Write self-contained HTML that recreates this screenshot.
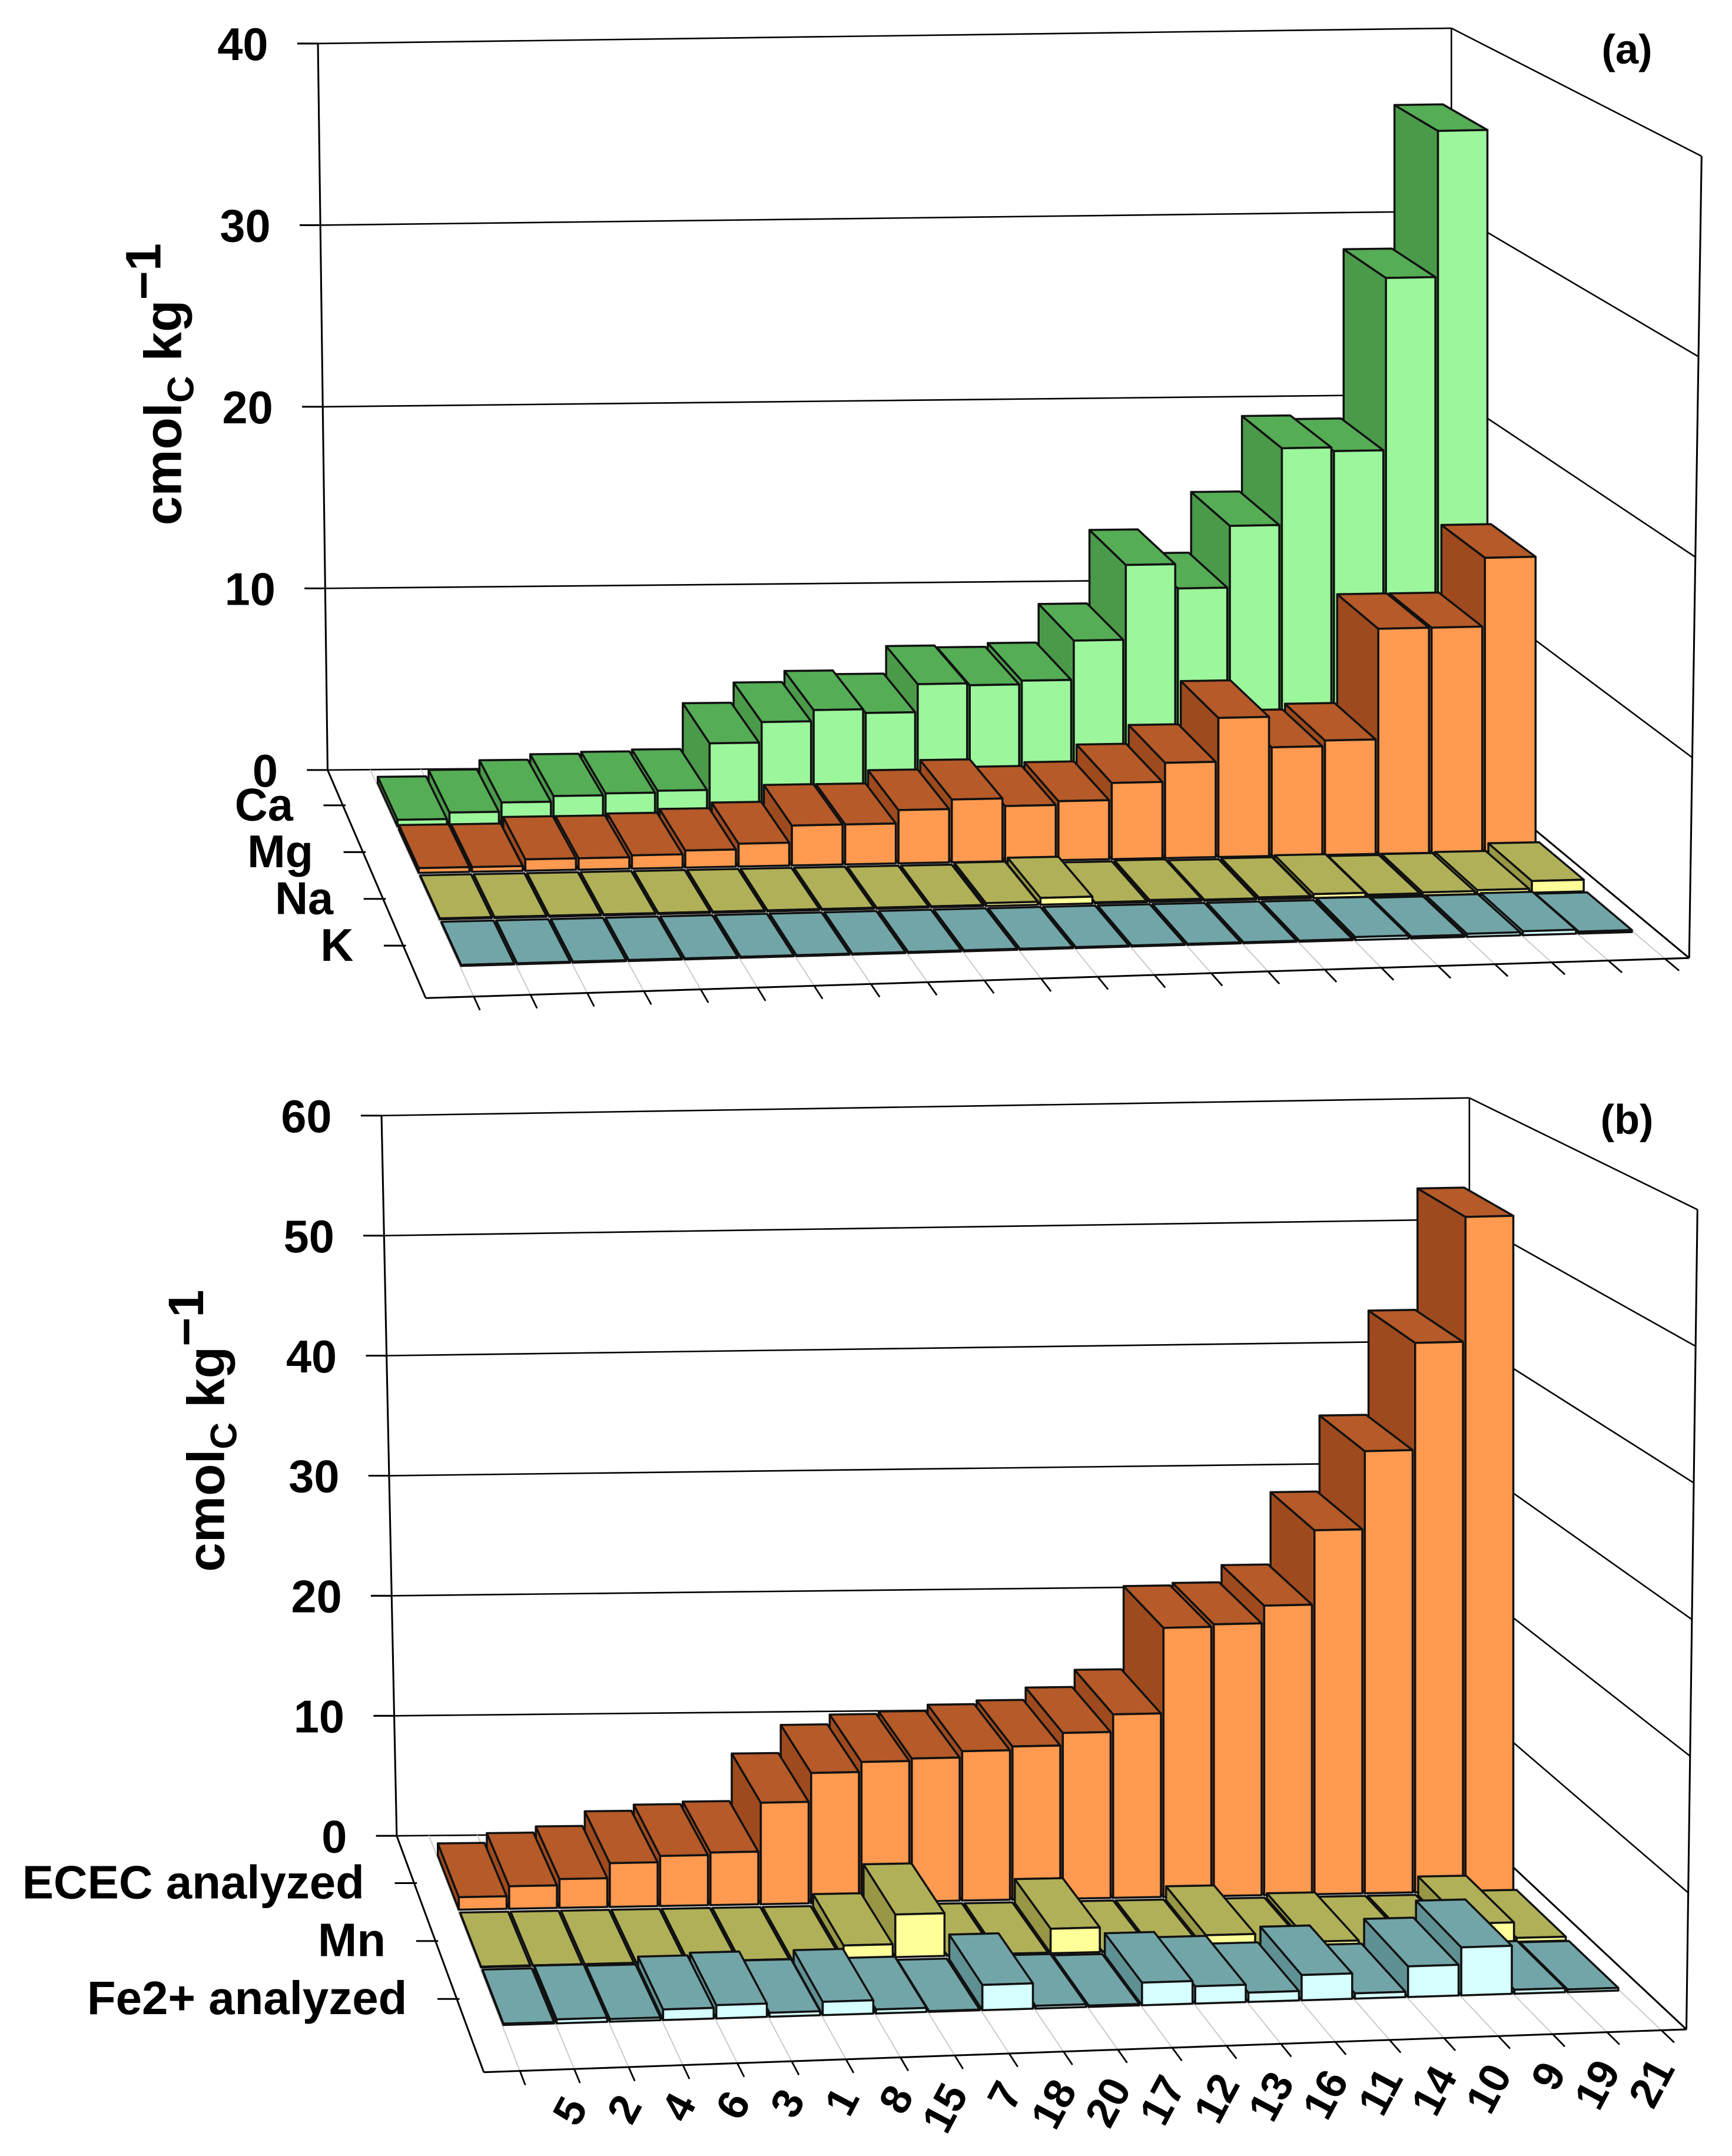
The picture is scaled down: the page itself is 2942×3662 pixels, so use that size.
<!DOCTYPE html>
<html><head><meta charset="utf-8">
<style>
html,body{margin:0;padding:0;background:#fff;}
svg{display:block;}
text{font-family:"Liberation Sans",Arial,sans-serif;font-weight:bold;fill:#000;}
</style></head>
<body>
<svg id="chart" xmlns="http://www.w3.org/2000/svg" width="2942" height="3662" viewBox="0 0 1253 1559.6" preserveAspectRatio="none">
<rect x="0" y="0" width="1253" height="1559.6" fill="#fff"/>
<g id="panelA"></g>
<g id="panelB"></g>
</svg>
<script>
const categories = ["5","2","4","6","3","1","8","15","7","18","20","17","12","13","16","11","14","10","9","19","21"];
const caValues = [0.35,0.7,1.2,1.5,1.6,1.7,4.2,5.3,5.9,5.7,7.2,7.1,7.3,9.4,13.4,12.1,15.4,19.5,19.3,28.5,36.3];
const mgValues = [0.25,0.25,0.6,0.6,0.7,0.9,1.2,2.1,2.1,2.8,3.3,2.9,3.1,4.0,5.0,7.3,5.7,6.0,11.8,11.8,15.4];
const naValues = [0.05,0.05,0.05,0.05,0.05,0.05,0.05,0.05,0.05,0.05,0.15,0.35,0.05,0.1,0.05,0.1,0.2,0.1,0.15,0.2,0.6];
const kValues = [0.05,0.05,0.05,0.05,0.05,0.05,0.05,0.05,0.05,0.05,0.05,0.05,0.05,0.05,0.05,0.05,0.15,0.1,0.15,0.2,0.1];
const ececValues = [1.0,1.8,2.3,3.5,4.0,4.2,8.1,10.4,11.2,11.4,11.9,12.2,13.2,14.6,21.4,21.6,23.0,28.9,35.1,43.6,53.5];
const mnValues = [0.05,0.05,0.05,0.05,0.05,0.05,0.05,1.0,3.3,0.05,0.05,1.9,0.05,0.05,1.1,0.05,0.4,0.05,0.05,1.5,0.3];
const fe2Values = [0.1,0.3,0.2,0.8,1.0,0.3,1.0,0.3,0.05,1.9,0.2,0.1,1.7,1.3,0.7,1.9,0.4,2.3,3.6,0.3,0.2];
const tickLabelsA = [0,10,20,30,40];
const tickLabelsB = [0,10,20,30,40,50,60];
const seriesNamesA = ["Ca","Mg","Na","K"];
const seriesNamesB = ["ECEC analyzed","Mn","Fe2+ analyzed"];

const NS = "http://www.w3.org/2000/svg";
const COL = {
  green:{front:"#9cf79c",top:"#55ad55",side:"#4a9a4a"},
  orange:{front:"#ff9a50",top:"#b55a28",side:"#9e4a1e"},
  yellow:{front:"#ffff99",top:"#b0b058",side:"#979745"},
  teal:{front:"#d6ffff",top:"#72a5a8",side:"#5f9093"}
};

function mk(tag, parent){const e=document.createElementNS(NS,tag);parent.appendChild(e);return e;}
function lerp(a,b,t){return [a[0]+(b[0]-a[0])*t,a[1]+(b[1]-a[1])*t];}
function P(g,u,d,v){
  const w1=(1-u)*(1-d),w2=u*(1-d),w3=u*d,w4=(1-u)*d;
  const x=w1*g.BL[0]+w2*g.BR[0]+w3*g.FR[0]+w4*g.FL[0];
  const y=w1*g.BL[1]+w2*g.BR[1]+w3*g.FR[1]+w4*g.FL[1];
  const s=w1*g.sBL+w2*g.sBR+w3*g.sFR+w4*g.sFL;
  return [x,y-v*s];
}
function pts(a){return a.map(p=>p[0].toFixed(2)+","+p[1].toFixed(2)).join(" ");}
function line(parent,a,b,w,c){const l=mk("line",parent);l.setAttribute("x1",a[0]);l.setAttribute("y1",a[1]);l.setAttribute("x2",b[0]);l.setAttribute("y2",b[1]);l.setAttribute("stroke",c||"#000");l.setAttribute("stroke-width",w);return l;}

function drawPanel(root,g,ticks,seriesNames,seriesVals,seriesCols,label,showCats){
  // walls
  const wall=mk("g",root);
  
  
  const max=ticks[ticks.length-1];
  const backTopR=[g.BR[0],g.BR[1]-max*g.sBR];
  for(const t of ticks){
    const f=t/max;
    const a=lerp(g.BL,g.axisTop,f);
    const b=[g.BR[0],g.BR[1]-t*g.sBR];
    const c=lerp(g.FR,g.rightTop,f);
    const gl=line(wall,a,b,1.1);
    
    
    const gr=line(wall,b,c,1.1);
    
    
    const tk=line(wall,[a[0]-15,a[1]],a,1.3);
    
    
    const tx=mk("text",wall);
    tx.setAttribute("x",a[0]-36);tx.setAttribute("y",a[1]+12);
    tx.setAttribute("text-anchor","end");tx.setAttribute("font-size","33");
    tx.textContent=t;
    
    
  }
  const ax=line(wall,g.BL,g.axisTop,1.3);
  
  
  const bv=line(wall,g.BR,backTopR,1.1);
  
  
  const rv=line(wall,g.FR,g.rightTop,1.3);
  
  
  // floor grid
  const fl=mk("g",root);
  
  
  for(let k=0;k<=categories.length;k++){
    const u=g.u0+k*g.slot;
    const gl=line(fl,P(g,u,0,0),P(g,u,1,0),0.8,"#c8c8c8");
    
    
    const tk=line(fl,P(g,u,1,0),P(g,u,1.06,0),1.2);
    
    
  }
  const e1=line(fl,g.BL,g.FL,1.3);
  
  
  const e2=line(fl,g.FL,g.FR,1.3);
  
  
  const e3=line(fl,g.BR,g.FR,1.3);
  
  
  // series labels
  seriesNames.forEach((nm,r)=>{
    const dc=g.rc0+r*g.rstep;
    const e=P(g,0,dc,0);
    const tk=line(fl,[e[0]-14,e[1]],[e[0]+2,e[1]],1.3);
    
    
    const tx=mk("text",root);
    tx.setAttribute("x",e[0]-36);tx.setAttribute("y",e[1]+11);
    tx.setAttribute("text-anchor","end");tx.setAttribute("font-size",g.sfs);
    tx.textContent=nm;
    
    
  });
  // bars
  const bars=mk("g",root);
  
  
  seriesVals.forEach((vals,r)=>{
    const dc=g.rc0+r*g.rstep, dB=dc-g.rh, dF=dc+g.rh;
    const col=seriesCols[r];
    for(let i=vals.length-1;i>=0;i--){
      const v=vals[i];
      const uL=g.u0+i*g.slot+g.slot*(1-g.fill)/2, uR=uL+g.slot*g.fill;
      const bg=mk("g",bars);
      
      
      const faces=[
        [[P(g,uL,dB,0),P(g,uL,dF,0),P(g,uL,dF,v),P(g,uL,dB,v)],col.side],
        [[P(g,uL,dB,v),P(g,uR,dB,v),P(g,uR,dF,v),P(g,uL,dF,v)],col.top],
        [[P(g,uL,dF,0),P(g,uR,dF,0),P(g,uR,dF,v),P(g,uL,dF,v)],col.front]
      ];
      for(const [p,c] of faces){
        const pg=mk("polygon",bg);
        pg.setAttribute("points",pts(p));
        pg.setAttribute("fill",c);
        pg.setAttribute("stroke","#111");
        pg.setAttribute("stroke-width","1.5");
        pg.setAttribute("stroke-linejoin","round");
      }
    }
  });
  // category labels
  if(showCats){
    categories.forEach((c,i)=>{
      const u=g.u0+(i+0.5)*g.slot;
      const f=P(g,u,1,0);
      const tx=mk("text",root);
      const x=f[0]+30,y=f[1]+27;
      tx.setAttribute("transform","translate("+x.toFixed(1)+","+y.toFixed(1)+") rotate(-62)");
      tx.setAttribute("text-anchor","end");tx.setAttribute("font-size","31");
      tx.textContent=c;
      
      
    });
  }
  // panel label
  const pl=mk("text",root);
  pl.setAttribute("x",g.labelPos[0]);pl.setAttribute("y",g.labelPos[1]);
  pl.setAttribute("text-anchor","middle");pl.setAttribute("font-size","30");
  pl.textContent=label;
  
  
  // y title
  const yt=mk("text",root);
  yt.setAttribute("transform","translate("+g.titlePos[0]+","+g.titlePos[1]+") rotate(-90)");
  yt.setAttribute("text-anchor","middle");yt.setAttribute("font-size","38");
  
  
  const s1=mk("tspan",yt);s1.textContent="cmol";
  const s2=mk("tspan",yt);s2.setAttribute("dy","9");s2.setAttribute("font-size","27");s2.textContent="C";
  const s3=mk("tspan",yt);s3.setAttribute("dy","-9");s3.textContent=" kg";
  const s4=mk("tspan",yt);s4.setAttribute("dy","-15");s4.setAttribute("font-size","36");s4.textContent="\u22121";
}

const geomA={BL:[237,557],BR:[1050,550],FR:[1222,693],FL:[308,722],sBL:13.14,sBR:13.24,sFR:14.5,sFL:14.4,
  axisTop:[230,31.5],rightTop:[1231,113],u0:0.038,slot:0.0449,fill:0.95,rc0:0.155,rstep:0.205,rh:0.095,
  sfs:33,labelPos:[1177,46],titlePos:[131,278]};
const geomB={BL:[287,1328],BR:[1063,1321],FR:[1220,1468],FL:[350,1499],sBL:8.68,sBR:8.78,sFR:9.88,sFL:9.8,
  axisTop:[276,807],rightTop:[1228,875],u0:0.03,slot:0.0452,fill:0.95,rc0:0.2,rstep:0.245,rh:0.115,
  sfs:34,labelPos:[1177,820],titlePos:[162,1035]};

drawPanel(document.getElementById("panelA"),geomA,tickLabelsA,seriesNamesA,[caValues,mgValues,naValues,kValues],
  [COL.green,COL.orange,COL.yellow,COL.teal],"(a)",false);
drawPanel(document.getElementById("panelB"),geomB,tickLabelsB,seriesNamesB,[ececValues,mnValues,fe2Values],
  [COL.orange,COL.yellow,COL.teal],"(b)",true);
</script>
</body></html>
